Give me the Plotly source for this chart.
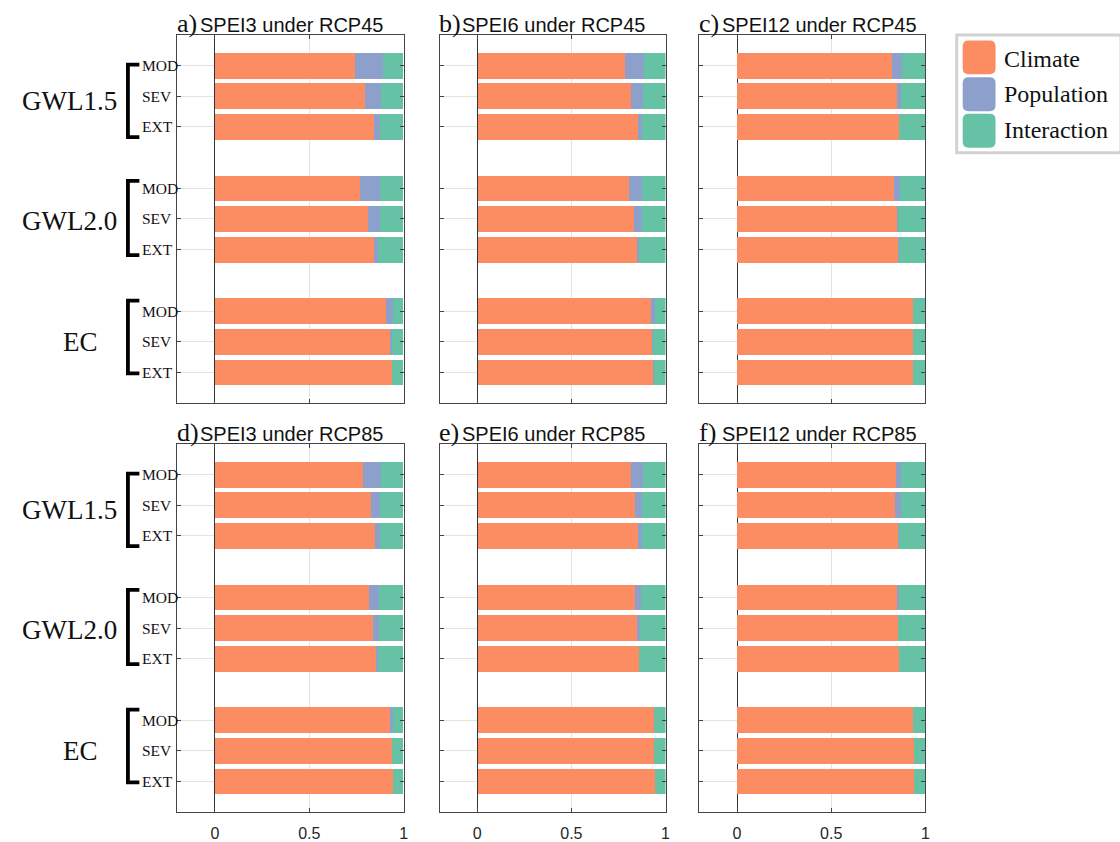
import plotly.graph_objects as go

# ---- data: share of exposure change attributed to each driver ----
groups = ["GWL1.5", "GWL2.0", "EC"]
levels = ["MOD", "SEV", "EXT"]
drivers = ["Climate", "Population", "Interaction"]
driver_colors = ["#FC8D62", "#8DA0CB", "#66C2A5"]

panel_letters = ["a)", "b)", "c)", "d)", "e)", "f)"]
panel_titles = ["SPEI3 under RCP45", "SPEI6 under RCP45", "SPEI12 under RCP45",
                "SPEI3 under RCP85", "SPEI6 under RCP85", "SPEI12 under RCP85"]

# order within each panel: GWL1.5 MOD/SEV/EXT, GWL2.0 MOD/SEV/EXT, EC MOD/SEV/EXT
climate_a = [0.741, 0.797, 0.845, 0.771, 0.813, 0.845, 0.907, 0.926, 0.938]
population_a = [0.148, 0.083, 0.028, 0.107, 0.060, 0.021, 0.035, 0.014, 0.000]
interaction_a = [0.111, 0.120, 0.127, 0.122, 0.127, 0.134, 0.058, 0.060, 0.062]

climate_b = [0.782, 0.815, 0.854, 0.806, 0.829, 0.850, 0.921, 0.931, 0.935]
population_b = [0.102, 0.064, 0.016, 0.065, 0.041, 0.007, 0.019, 0.002, 0.002]
interaction_b = [0.116, 0.121, 0.130, 0.129, 0.130, 0.143, 0.060, 0.067, 0.063]

climate_c = [0.824, 0.850, 0.862, 0.836, 0.852, 0.859, 0.935, 0.938, 0.938]
population_c = [0.054, 0.025, 0.002, 0.032, 0.007, 0.002, 0.000, 0.000, 0.000]
interaction_c = [0.122, 0.125, 0.136, 0.132, 0.141, 0.139, 0.065, 0.062, 0.062]

climate_d = [0.783, 0.830, 0.850, 0.816, 0.841, 0.852, 0.931, 0.940, 0.942]
population_d = [0.100, 0.046, 0.025, 0.055, 0.028, 0.015, 0.011, 0.000, 0.000]
interaction_d = [0.117, 0.124, 0.125, 0.129, 0.131, 0.133, 0.058, 0.060, 0.058]

climate_e = [0.813, 0.838, 0.852, 0.835, 0.847, 0.857, 0.935, 0.938, 0.940]
population_e = [0.066, 0.035, 0.018, 0.031, 0.017, 0.002, 0.000, 0.000, 0.000]
interaction_e = [0.121, 0.127, 0.130, 0.134, 0.136, 0.141, 0.065, 0.062, 0.060]

climate_f = [0.848, 0.843, 0.861, 0.854, 0.859, 0.862, 0.938, 0.940, 0.940]
population_f = [0.027, 0.032, 0.003, 0.007, 0.000, 0.000, 0.000, 0.000, 0.000]
interaction_f = [0.125, 0.125, 0.136, 0.139, 0.141, 0.138, 0.062, 0.060, 0.060]

x_ticks = [0, 0.5, 1]
x_tick_labels = ["0", "0.5", "1"]

panels = [
    (climate_a, population_a, interaction_a),
    (climate_b, population_b, interaction_b),
    (climate_c, population_c, interaction_c),
    (climate_d, population_d, interaction_d),
    (climate_e, population_e, interaction_e),
    (climate_f, population_f, interaction_f),
]

# ---- page geometry (pixels) ----
W, H = 1120, 842
col_px = [(178, 405.5), (441.5, 668.5), (702.5, 929.5)]
row_px = [(35, 404), (445, 814)]


def px(x):
    return x / W


def py(y):
    return 1 - y / H


SERIF = "Liberation Serif"
SANS = "Liberation Sans"

# bar slots: one empty slot between the three groups
bar_pos = [g * 4 + l + 1 for g in range(len(groups)) for l in range(len(levels))]

fig = go.Figure()
layout = dict(
    width=W, height=H, margin=dict(l=0, r=0, t=0, b=0),
    paper_bgcolor="white", plot_bgcolor="white",
    barmode="stack", bargap=0, showlegend=False,
    font=dict(family=SANS, color="#262626"),
)

annotations = []
shapes = []

for k, series in enumerate(panels):
    row, col = divmod(k, 3)
    sfx = "" if k == 0 else str(k + 1)
    xa, ya = "x" + sfx, "y" + sfx
    for name, vals, color in zip(drivers, series, driver_colors):
        fig.add_trace(go.Bar(
            x=vals, y=bar_pos, orientation="h", name=name,
            marker=dict(color=color, line=dict(width=0)), width=0.84,
            xaxis=xa, yaxis=ya, hoverinfo="x+name",
        ))
    x0, x1 = col_px[col]
    y0, y1 = row_px[row]
    layout["xaxis" + sfx] = dict(
        domain=[px(x0), px(x1)], anchor=ya, range=[-0.2, 1.0],
        tickvals=x_ticks, ticktext=x_tick_labels, showticklabels=(row == 1),
        ticks="inside", ticklen=4, tickcolor="#444", mirror="ticks",
        showline=True, linecolor="#444", linewidth=1,
        showgrid=True, gridcolor="#e3e3e3", gridwidth=1,
        zeroline=True, zerolinecolor="#333", zerolinewidth=1,
        tickfont=dict(family=SANS, size=16, color="#262626"),
        ticklabelstandoff=7, fixedrange=True,
    )
    layout["yaxis" + sfx] = dict(
        domain=[py(y1), py(y0)], anchor=xa, range=[12, 0],
        tickvals=bar_pos, showticklabels=False,
        ticks="inside", ticklen=4, tickcolor="#444", mirror="ticks",
        showline=True, linecolor="#444", linewidth=1,
        showgrid=True, gridcolor="#e3e3e3", gridwidth=1,
        zeroline=False, fixedrange=True,
    )

    # panel heading: serif letter + sans title
    cap_mid = y0 - 10
    letter_x = x0 - 2.5
    annotations.append(dict(
        text=panel_letters[k], xref="paper", yref="paper",
        x=px(letter_x), y=py(cap_mid - 1), xanchor="left", yanchor="middle",
        showarrow=False, font=dict(family=SERIF, size=26, color="#111"),
    ))
    annotations.append(dict(
        text=panel_titles[k], xref="paper", yref="paper",
        x=px(letter_x + 23), y=py(cap_mid), xanchor="left", yanchor="middle",
        showarrow=False, font=dict(family=SANS, size=20, color="#111"),
    ))

    # row labels with brackets on the left-hand panels
    if col == 0:
        group_label_x = [70, 70, 81]
        group_label_y = [2.15, 6.05, 10.0]
        bracket_top = [0.97, 4.76, 8.66]
        bracket_bot = [3.33, 7.18, 11.03]
        bx0, bx1 = px(128.5), px(140)
        for g, gname in enumerate(groups):
            annotations.append(dict(
                text=gname, xref="paper", yref=ya,
                x=px(group_label_x[g]), y=group_label_y[g],
                xanchor="center", yanchor="middle", showarrow=False,
                font=dict(family=SERIF, size=27, color="#111"),
            ))
            shapes.append(dict(
                type="path", xref="paper", yref=ya,
                path=(f"M {bx1},{bracket_top[g]} L {bx0},{bracket_top[g]} "
                      f"L {bx0},{bracket_bot[g]} L {bx1},{bracket_bot[g]}"),
                line=dict(color="black", width=3.8),
            ))
            for l, lname in enumerate(levels):
                annotations.append(dict(
                    text=lname, xref="paper", yref=ya,
                    x=px(140.5), y=g * 4 + l + 1,
                    xanchor="left", yanchor="middle", showarrow=False,
                    font=dict(family=SERIF, size=15.5, color="#111"),
                ))

# ---- legend drawn as a framed box with rounded colour patches ----
shapes.append(dict(
    type="rect", xref="paper", yref="paper",
    x0=px(961), x1=px(1126), y0=py(153), y1=py(35),
    line=dict(color="#d2d2d2", width=3), fillcolor="white", layer="above",
))


def rounded_rect(xl, yt, xr, yb, r):
    return (f"M {px(xl + r)},{py(yt)} L {px(xr - r)},{py(yt)} "
            f"Q {px(xr)},{py(yt)} {px(xr)},{py(yt + r)} "
            f"L {px(xr)},{py(yb - r)} Q {px(xr)},{py(yb)} {px(xr - r)},{py(yb)} "
            f"L {px(xl + r)},{py(yb)} Q {px(xl)},{py(yb)} {px(xl)},{py(yb - r)} "
            f"L {px(xl)},{py(yt + r)} Q {px(xl)},{py(yt)} {px(xl + r)},{py(yt)} Z")


patch_tops = [40.5, 77.5, 114]
text_mid = [59, 94.5, 130.5]
for i, (name, color) in enumerate(zip(drivers, driver_colors)):
    t = patch_tops[i]
    shapes.append(dict(
        type="path", xref="paper", yref="paper",
        path=rounded_rect(967, t, 1000, t + 34, 6),
        fillcolor=color, line=dict(width=0), layer="above",
    ))
    annotations.append(dict(
        text=name, xref="paper", yref="paper",
        x=px(1006), y=py(text_mid[i]), xanchor="left", yanchor="middle",
        showarrow=False, font=dict(family=SERIF, size=24, color="#111"),
    ))

layout["annotations"] = annotations
layout["shapes"] = shapes
fig.update_layout(**layout)
fig.write_html("out.html")
